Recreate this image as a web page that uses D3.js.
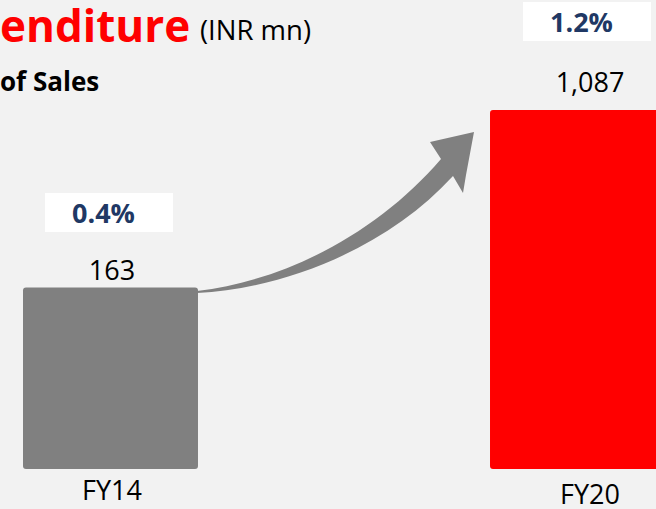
<!DOCTYPE html>
<html>
<head>
<meta charset="utf-8">
<script src="https://cdn.jsdelivr.net/npm/d3@7/dist/d3.min.js"></script>
<style>
  html, body { margin: 0; padding: 0; background: #f2f2f2; overflow: hidden; }
  svg { display: block; }
</style>
</head>
<body>
<svg id="chart" width="656" height="509"></svg>
<script>
// ---- data ----
const categories = ["FY14", "FY20"];
const values = [163, 1087];
const valueLabels = ["163", "1,087"];
const pctValues = [0.4, 1.2];
const pctLabels = ["0.4%", "1.2%"];
const barColors = ["#808080", "#ff0000"];

// ---- drawing ----
const W = 656, H = 509;
const svg = d3.select("#chart");
svg.append("rect").attr("width", W).attr("height", H).attr("fill", "#f2f2f2");

const FONT = "'Open Sans', 'Noto Sans', sans-serif";

// title pieces
svg.append("text").attr("x", 0).attr("y", 42)
  .attr("font-family", FONT).attr("font-weight", 700).attr("font-size", 44)
  .attr("fill", "#ff0000").text("enditure");
svg.append("text").attr("x", 200).attr("y", 40)
  .attr("font-family", FONT).attr("font-size", 27.5)
  .attr("fill", "#000").text("(INR mn)");
svg.append("text").attr("x", 0).attr("y", 91)
  .attr("font-family", FONT).attr("font-weight", 700).attr("font-size", 26)
  .attr("fill", "#000").text("of Sales");

// scales
const x = d3.scaleBand().domain(categories).range([23, 665]).paddingInner(0.6253).paddingOuter(0);
const y = d3.scaleLinear().domain([-782, 1087]).range([469, 110]);
const xLabel = d3.scalePoint().domain(categories).range([112, 590]);
const yValueLabel = d3.scaleLinear().domain(d3.extent(values)).range([280, 92]);
const yPctBox = d3.scaleLinear().domain(d3.extent(pctValues)).range([193, 2]);
const yCat = d3.scalePoint().domain(categories).range([500, 504]);

const data = categories.map((c, i) => ({
  cat: c, v: values[i], vl: valueLabels[i], p: pctValues[i], pl: pctLabels[i], color: barColors[i]
}));

// arrow (decoration)
const arrow = "M197,291 C290,280 380,230 441,159 L430,142 L474,132 L466,175 L463,193 L453,176 " +
  "C390,245 290,288 197,293 Z";
svg.append("path").attr("d", arrow).attr("fill", "#808080");

// bars
svg.selectAll("rect.bar").data(data).join("rect")
  .attr("class", "bar")
  .attr("x", d => x(d.cat))
  .attr("y", d => y(d.v))
  .attr("width", x.bandwidth())
  .attr("height", d => y(-782) - y(d.v))
  .attr("rx", 3).attr("ry", 3)
  .attr("fill", d => d.color);

// value labels
svg.selectAll("text.val").data(data).join("text")
  .attr("class", "val")
  .attr("x", d => xLabel(d.cat))
  .attr("y", d => yValueLabel(d.v))
  .attr("text-anchor", "middle")
  .attr("font-family", FONT).attr("font-size", 27)
  .attr("fill", "#000").text(d => d.vl);

// percent boxes
svg.selectAll("rect.pbox").data(data).join("rect")
  .attr("class", "pbox")
  .attr("x", d => xLabel(d.cat) - 67)
  .attr("y", d => yPctBox(d.p))
  .attr("width", 128).attr("height", 39)
  .attr("fill", "#ffffff");
svg.selectAll("text.pct").data(data).join("text")
  .attr("class", "pct")
  .attr("x", d => xLabel(d.cat) - 40)
  .attr("y", d => yPctBox(d.p) + 30)
  .attr("font-family", FONT).attr("font-weight", 700).attr("font-size", 27)
  .attr("fill", "#203864").text(d => d.pl);

// category labels
svg.selectAll("text.cat").data(data).join("text")
  .attr("class", "cat")
  .attr("x", d => xLabel(d.cat))
  .attr("y", d => yCat(d.cat))
  .attr("text-anchor", "middle")
  .attr("font-family", FONT).attr("font-size", 27)
  .attr("fill", "#000").text(d => d.cat);
</script>
</body>
</html>
